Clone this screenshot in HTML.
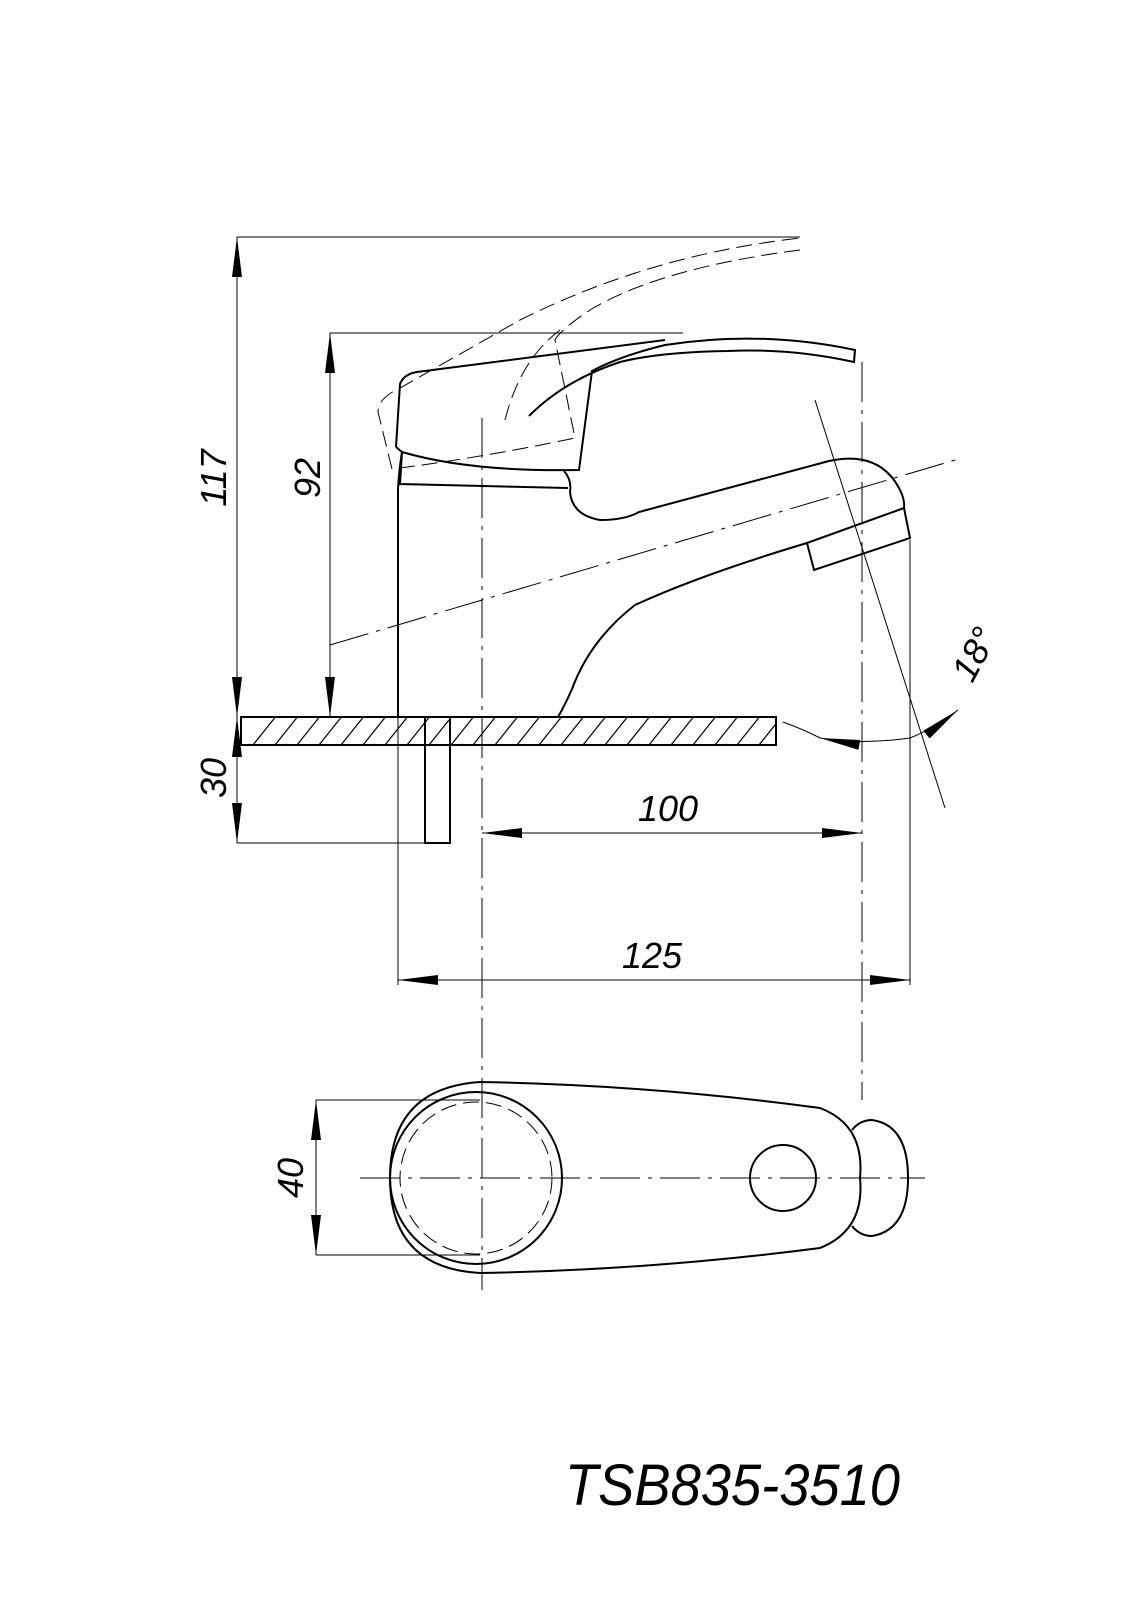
<!DOCTYPE html>
<html><head><meta charset="utf-8"><style>
html,body{margin:0;padding:0;background:#fff}
svg{display:block}
text{font-family:"Liberation Sans",sans-serif;font-style:italic;fill:#000}
</style></head><body>
<svg width="1131" height="1600" viewBox="0 0 1131 1600" xmlns="http://www.w3.org/2000/svg">
<defs>
<marker id="a" viewBox="0 0 40 10" refX="40" refY="5" markerWidth="40" markerHeight="10" markerUnits="userSpaceOnUse" orient="auto-start-reverse"><path d="M0,0 L40,5 L0,10 Z" fill="#000"/></marker>
<clipPath id="pl"><rect x="241" y="717" width="535" height="28"/></clipPath>
</defs>
<g fill="none" stroke="#000" stroke-width="1">
<line x1="237" y1="237" x2="800" y2="237"/>
<line x1="237" y1="237" x2="237" y2="717" marker-start="url(#a)" marker-end="url(#a)"/>
<line x1="330" y1="333" x2="683" y2="333"/>
<line x1="330" y1="333" x2="330" y2="717" marker-start="url(#a)" marker-end="url(#a)"/>
<line x1="237" y1="717" x2="237" y2="843" marker-start="url(#a)" marker-end="url(#a)"/>
<line x1="237" y1="843" x2="425" y2="843"/>
<line x1="482" y1="833" x2="862" y2="833" marker-start="url(#a)" marker-end="url(#a)"/>
<line x1="398" y1="717" x2="398" y2="985"/>
<line x1="910" y1="540" x2="910" y2="985"/>
<line x1="398" y1="980" x2="910" y2="980" marker-start="url(#a)" marker-end="url(#a)"/>
<line x1="316" y1="1100" x2="480" y2="1100"/>
<line x1="316" y1="1255" x2="480" y2="1255"/>
<line x1="316" y1="1100" x2="316" y2="1255" marker-start="url(#a)" marker-end="url(#a)"/>
<line x1="482" y1="418" x2="482" y2="1290" stroke-dasharray="40,8,4,8"/>
<line x1="862" y1="362" x2="862" y2="1100" stroke-dasharray="40,8,4,8"/>
<line x1="330" y1="645" x2="962" y2="458" stroke-dasharray="40,8,4,8"/>
<line x1="815" y1="400" x2="945" y2="808"/>
<line x1="360" y1="1178" x2="925" y2="1178" stroke-dasharray="40,8,4,8"/>
<path d="M783,722 Q805,730 820,738" />
<path d="M820,738 Q860,745 910,738" marker-start="url(#a)"/>
<path d="M910,738 Q935,728 958,710" marker-end="url(#a)"/>
</g>
<g fill="none" stroke="#000" stroke-width="2">
<rect x="241" y="717" width="535" height="28"/>
<rect x="425" y="717" width="25" height="126"/>
<g clip-path="url(#pl)" stroke-width="1.2">
<path d="M241,760 l40,-50 M263,760 l40,-50 M285,760 l40,-50 M307,760 l40,-50 M329,760 l40,-50 M351,760 l40,-50 M373,760 l40,-50 M395,760 l40,-50 M417,760 l40,-50 M439,760 l40,-50 M461,760 l40,-50 M483,760 l40,-50 M505,760 l40,-50 M527,760 l40,-50 M549,760 l40,-50 M571,760 l40,-50 M593,760 l40,-50 M615,760 l40,-50 M637,760 l40,-50 M659,760 l40,-50 M681,760 l40,-50 M703,760 l40,-50 M725,760 l40,-50 M747,760 l40,-50"/>
</g>
<path d="M398,717 L398,489 Q399,470 402,452 L400,484 L568,488"/>
<path d="M402,452 Q470,472 579,470 L592,371 Q620,356 665,345 Q760,330 855,350 L854,362 Q790,348 728,351 Q660,352 620,362 Q565,380 529,416"/>
<path d="M396,447 L400,384 Q404,374 417,372 L665,340"/>
<path d="M396,447 L402,452"/>
<path d="M564,471 Q572,480 570,492 Q572,515 600,520 Q625,520 639,512 L829,461 Q880,450 900,490 Q905,500 904,508 L807,543 Q700,575 635,605 Q590,640 572,689 Q565,705 558,717"/>
<path d="M807,543 L814,570 L910,538 L904,508"/>
<path d="M480,1082 Q650,1085 820,1108 Q865,1125 860,1178 Q865,1230 820,1248 Q650,1270 480,1273 Q390,1268 390,1178 Q390,1088 480,1082 Z"/>
<circle cx="476" cy="1178" r="86"/>
<circle cx="783" cy="1178" r="33"/>
<path d="M852,1130 Q860,1120 872,1120 Q908,1125 908,1178 Q908,1230 872,1236 Q860,1236 852,1226"/>
</g>
<g fill="none" stroke="#000" stroke-width="1" stroke-dasharray="16,7">
<circle cx="476" cy="1178" r="76"/>
<path d="M392,469 L378,412 Q378,398 400,388 L520,320 Q650,255 800,238"/>
<path d="M800,250 Q660,268 590,310 Q560,330 555,340 L575,438 Q480,458 392,469"/>
<path d="M505,420 Q520,360 560,330"/>
</g>
<g font-size="36">
<text transform="translate(226,478) rotate(-90)" text-anchor="middle">117</text>
<text transform="translate(320,478) rotate(-90)" text-anchor="middle">92</text>
<text transform="translate(226,778) rotate(-90)" text-anchor="middle">30</text>
<text transform="translate(303,1178) rotate(-90)" text-anchor="middle">40</text>
<text x="668" y="821" text-anchor="middle">100</text>
<text x="652" y="968" text-anchor="middle">125</text>
<text transform="translate(985,660) rotate(-62)" text-anchor="middle">18°</text>
</g>
<text x="565" y="1505" font-size="58" textLength="335" lengthAdjust="spacingAndGlyphs">TSB835-3510</text>
</svg>
</body></html>
